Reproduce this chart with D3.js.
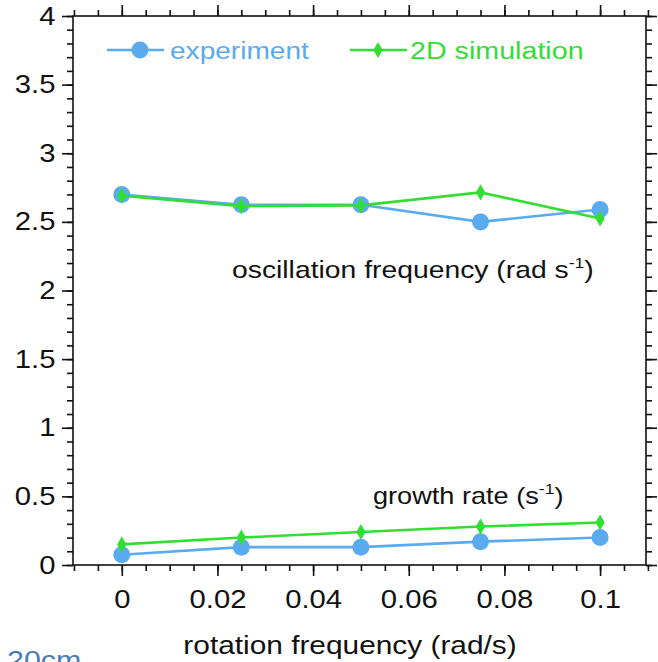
<!DOCTYPE html>
<html>
<head>
<meta charset="utf-8">
<script src="https://cdn.jsdelivr.net/npm/d3@7"></script>
<style>
body { margin: 0; background: #fff; }
svg { font-family: "Liberation Sans", Arial, sans-serif; }
</style>
</head>
<body>
<svg id="chart" width="658" height="662"></svg>
<script>
// rotation frequency (rad/s)
var rotation = [0, 0.025, 0.05, 0.075, 0.1];

// oscillation frequency (rad s^-1)
var oscExperiment = [2.70, 2.625, 2.625, 2.50, 2.59];
var oscSimulation = [2.69, 2.615, 2.62, 2.715, 2.525];

// growth rate (s^-1)
var growthExperiment = [0.075, 0.13, 0.13, 0.17, 0.20];
var growthSimulation = [0.15, 0.20, 0.24, 0.28, 0.31];

var xTicks = [0, 0.02, 0.04, 0.06, 0.08, 0.1];
var yTicks = [0, 0.5, 1, 1.5, 2, 2.5, 3, 3.5, 4];

var blue = '#5aaaf0';
var green = '#33dd33';
var SX = 1.17; // the original figure's lettering is a bit wide

var svg = d3.select('#chart');
var margin = {top: 16, right: 12, bottom: 97, left: 73};
var W = 658, H = 662;

var x = d3.scaleLinear().domain([-0.0102, 0.1096]).range([margin.left, W - margin.right]);
var y = d3.scaleLinear().domain([0, 4]).range([H - margin.bottom, margin.top]);

var minorX = d3.range(-0.01, 0.1101, 0.005);
var minorY = d3.range(0, 4.001, 0.1);

function fmt(d) { return d3.format('~g')(+d.toFixed(3)); }

// put a text at (tx, ty) stretched horizontally
function label(tx, ty, size, color, anchor) {
	return svg.append('text')
		.attr('transform', 'translate(' + tx + ',' + ty + ') scale(' + SX + ',1)')
		.attr('font-size', size).attr('fill', color)
		.attr('text-anchor', anchor || 'start');
}

// bottom axis
svg.append('g')
	.attr('transform', 'translate(0,' + y(0) + ')')
	.call(d3.axisBottom(x).tickValues(minorX).tickSize(6).tickFormat(''))
	.call(g => g.select('.domain').remove());
svg.append('g')
	.attr('class', 'xaxis')
	.attr('transform', 'translate(0,' + y(0) + ')')
	.call(d3.axisBottom(x).tickValues(xTicks).tickSize(11).tickPadding(14).tickFormat(fmt))
	.call(g => g.select('.domain').remove());

// top axis
svg.append('g')
	.attr('transform', 'translate(0,' + y(4) + ')')
	.call(d3.axisTop(x).tickValues(minorX).tickSize(6).tickFormat(''))
	.call(g => g.select('.domain').remove());
svg.append('g')
	.attr('transform', 'translate(0,' + y(4) + ')')
	.call(d3.axisTop(x).tickValues(xTicks).tickSize(11).tickFormat(''))
	.call(g => g.select('.domain').remove());

// left axis
svg.append('g')
	.attr('transform', 'translate(' + x.range()[0] + ',0)')
	.call(d3.axisLeft(y).tickValues(minorY).tickSize(6).tickFormat(''))
	.call(g => g.select('.domain').remove());
svg.append('g')
	.attr('class', 'yaxis')
	.attr('transform', 'translate(' + x.range()[0] + ',0)')
	.call(d3.axisLeft(y).tickValues(yTicks).tickSize(11).tickPadding(4).tickFormat(fmt))
	.call(g => g.select('.domain').remove());

// right axis
svg.append('g')
	.attr('transform', 'translate(' + x.range()[1] + ',0)')
	.call(d3.axisRight(y).tickValues(minorY).tickSize(6).tickFormat(''))
	.call(g => g.select('.domain').remove());
svg.append('g')
	.attr('transform', 'translate(' + x.range()[1] + ',0)')
	.call(d3.axisRight(y).tickValues(yTicks).tickSize(11).tickFormat(''))
	.call(g => g.select('.domain').remove());

svg.selectAll('.tick line').attr('stroke', '#111').attr('stroke-width', 1.6);
svg.selectAll('.xaxis text, .yaxis text')
	.attr('font-size', 25).attr('fill', '#111')
	.attr('font-family', '"Liberation Sans", Arial, sans-serif')
	.attr('transform', 'scale(' + SX + ',1)');

// frame
svg.append('rect')
	.attr('x', x.range()[0]).attr('y', y(4))
	.attr('width', x.range()[1] - x.range()[0])
	.attr('height', y(0) - y(4))
	.attr('fill', 'none').attr('stroke', '#111').attr('stroke-width', 1.6);

var line = d3.line().x((d, i) => x(rotation[i])).y(d => y(d));

function drawSeries(values, color, kind) {
	svg.append('path').datum(values)
		.attr('d', line)
		.attr('fill', 'none').attr('stroke', color).attr('stroke-width', 2.6);
	if (kind == 'circle') {
		svg.selectAll(null).data(values).enter().append('circle')
			.attr('cx', (d, i) => x(rotation[i])).attr('cy', d => y(d))
			.attr('r', 8.5).attr('fill', color);
	} else {
		svg.selectAll(null).data(values).enter().append('path')
			.attr('transform', (d, i) => 'translate(' + x(rotation[i]) + ',' + y(d) + ')')
			.attr('d', d3.symbol(d3.symbolDiamond, 75)).attr('fill', color);
	}
}

drawSeries(oscExperiment, blue, 'circle');
drawSeries(growthExperiment, blue, 'circle');
drawSeries(oscSimulation, green, 'diamond');
drawSeries(growthSimulation, green, 'diamond');

// legend
svg.append('line').attr('x1', 107).attr('x2', 164).attr('y1', 50).attr('y2', 50)
	.attr('stroke', blue).attr('stroke-width', 2.6);
svg.append('circle').attr('cx', 140).attr('cy', 50).attr('r', 8.5).attr('fill', blue);
label(170, 59, 24, blue).text('experiment');
svg.append('line').attr('x1', 350).attr('x2', 407).attr('y1', 50).attr('y2', 50)
	.attr('stroke', green).attr('stroke-width', 2.6);
svg.append('path').attr('transform', 'translate(378,50)')
	.attr('d', d3.symbol(d3.symbolDiamond, 75)).attr('fill', green);
label(410, 59, 24.5, green).text('2D simulation');

// annotations
var osc = label(232, 278, 24.2, '#111');
osc.append('tspan').text('oscillation frequency (rad s');
osc.append('tspan').attr('dy', -10).attr('font-size', 15).text('-1');
osc.append('tspan').attr('dy', 10).text(')');

var gr = label(373, 504, 23.2, '#111');
gr.append('tspan').text('growth rate (s');
gr.append('tspan').attr('dy', -10).attr('font-size', 15).text('-1');
gr.append('tspan').attr('dy', 10).text(')');

// axis title
label(350, 654, 25.5, '#111', 'middle').text('rotation frequency (rad/s)');

// stray label cut at the bottom edge, as in the source image
label(7, 669, 26, '#4a7db5').text('20cm');
</script>
</body>
</html>
